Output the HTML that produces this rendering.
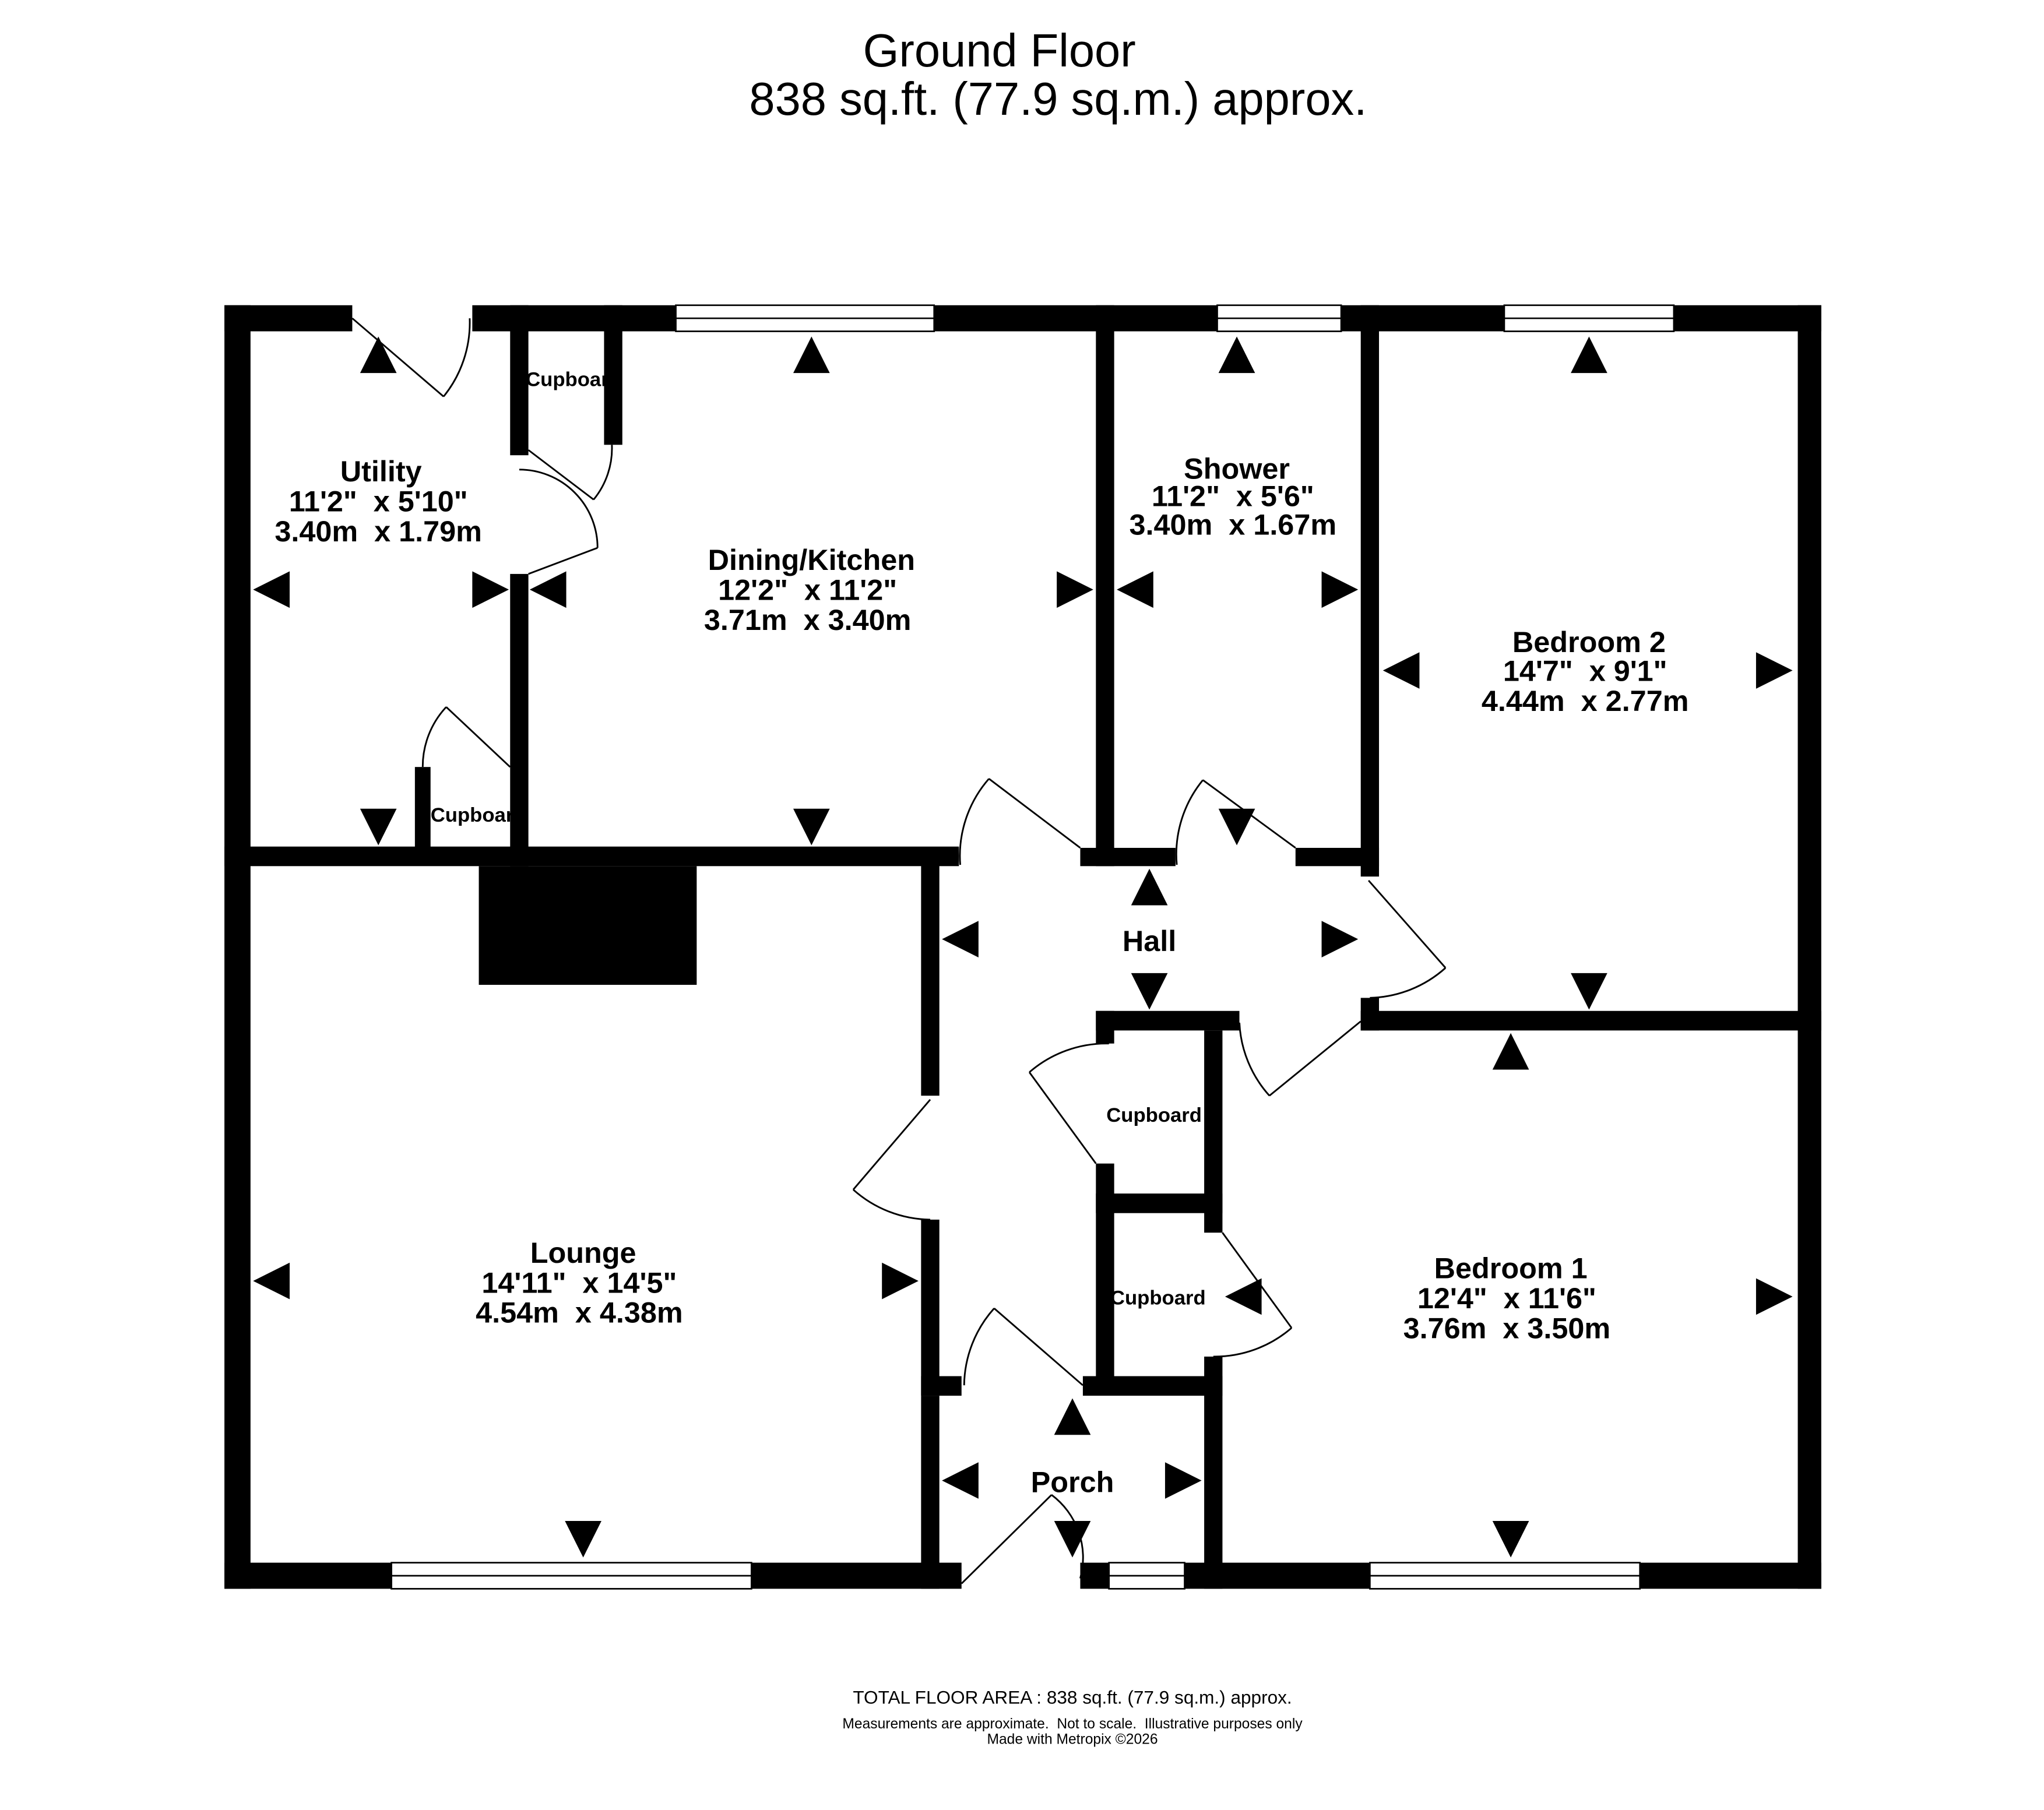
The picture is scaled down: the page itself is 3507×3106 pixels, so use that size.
<!DOCTYPE html>
<html><head><meta charset="utf-8"><style>
html,body{margin:0;padding:0;background:#fff;}
svg{display:block;}
text{font-family:"Liberation Sans",Arial,sans-serif;white-space:pre;}
.r{font-weight:bold;font-size:22.5px;text-anchor:middle;}
.c{font-weight:bold;font-size:15.5px;}
</style></head><body>
<svg width="3507" height="3106" viewBox="0 0 1566.7 1387.6" xmlns="http://www.w3.org/2000/svg">
<rect width="1567" height="1388" fill="#fff"/>
<text x="766" y="51" font-size="35.5" text-anchor="middle">Ground Floor</text>
<text x="811" y="88" font-size="35.5" text-anchor="middle">838 sq.ft. (77.9 sq.m.) approx.</text>
<g fill="#000">
<rect x="172" y="234" width="98" height="20"/>
<rect x="362" y="234" width="156" height="20"/>
<rect x="716" y="234" width="217" height="20"/>
<rect x="1028" y="234" width="125" height="20"/>
<rect x="1283" y="234" width="113" height="20"/>
<rect x="172" y="234" width="20" height="984"/>
<rect x="1378" y="234" width="18" height="984"/>
<rect x="172" y="1198" width="128" height="20"/>
<rect x="576" y="1198" width="161" height="20"/>
<rect x="828" y="1198" width="22" height="20"/>
<rect x="908" y="1198" width="142" height="20"/>
<rect x="1257" y="1198" width="139" height="20"/>
<rect x="172" y="649" width="563" height="15"/>
<rect x="391" y="234" width="14" height="115"/>
<rect x="391" y="440" width="14" height="224"/>
<rect x="463" y="234" width="14" height="107"/>
<rect x="318" y="588" width="12" height="70"/>
<rect x="367" y="664" width="167" height="91"/>
<rect x="840" y="234" width="14" height="430"/>
<rect x="828" y="650" width="73" height="14"/>
<rect x="1043" y="234" width="14" height="438"/>
<rect x="993" y="650" width="64" height="14"/>
<rect x="706" y="650" width="14" height="190"/>
<rect x="706" y="935" width="14" height="135"/>
<rect x="706" y="1055" width="31" height="15"/>
<rect x="706" y="1070" width="14" height="148"/>
<rect x="1043" y="775" width="353" height="15"/>
<rect x="1043" y="765" width="14" height="25"/>
<rect x="840" y="775" width="110" height="15"/>
<rect x="840" y="775" width="14" height="25"/>
<rect x="923" y="790" width="14" height="155"/>
<rect x="840" y="915" width="97" height="15"/>
<rect x="840" y="892" width="14" height="168"/>
<rect x="830" y="1055" width="107" height="15"/>
<rect x="923" y="1040" width="14" height="178"/>
</g>
<g fill="#fff" stroke="#000" stroke-width="1.2">
<rect x="518" y="234" width="198" height="20"/><line x1="518" y1="244" x2="716" y2="244"/>
<rect x="933" y="234" width="95" height="20"/><line x1="933" y1="244" x2="1028" y2="244"/>
<rect x="1153" y="234" width="130" height="20"/><line x1="1153" y1="244" x2="1283" y2="244"/>
<rect x="300" y="1198" width="276" height="20"/><line x1="300" y1="1208" x2="576" y2="1208"/>
<rect x="850" y="1198" width="58" height="20"/><line x1="850" y1="1208" x2="908" y2="1208"/>
<rect x="1050" y="1198" width="207" height="20"/><line x1="1050" y1="1208" x2="1257" y2="1208"/>
</g>
<g fill="none" stroke="#000" stroke-width="1.3">
<path d="M270 244 L340 304 M340 304 A90 90 0 0 0 360 244"/>
<path d="M405 345 L455 383 M455 383 A62 62 0 0 0 469 341"/>
<path d="M405 440 L458 420 M458 420 A60 60 0 0 0 398 360"/>
<path d="M391 588 L342 542 M342 542 A67 67 0 0 0 324 588"/>
<path d="M828 650 L758 597 M758 597 A90 90 0 0 0 736 663"/>
<path d="M993 650 L922 598 M922 598 A90 90 0 0 0 902 663"/>
<path d="M1049 675 L1108 742 M1108 742 A90 90 0 0 1 1050 765"/>
<path d="M973 840 L1043 783 M950 784 A90 90 0 0 0 973 840"/>
<path d="M840 892 L789 822 M789 822 A90 90 0 0 1 850 800"/>
<path d="M713 843 L654 912 M654 912 A90 90 0 0 0 713 935"/>
<path d="M937 945 L990 1018 M990 1018 A90 90 0 0 1 930 1040"/>
<path d="M830 1062 L762 1003 M762 1003 A90 90 0 0 0 739 1062"/>
<path d="M737 1214 L806 1146 M806 1146 A60 60 0 0 1 828 1210"/>
</g>
<g fill="#000">
<polygon points="276,286 304,286 290,258"/><polygon points="608,286 636,286 622,258"/>
<polygon points="934,286 962,286 948,258"/><polygon points="1204,286 1232,286 1218,258"/>
<polygon points="867,694 895,694 881,666"/><polygon points="1144,820 1172,820 1158,792"/>
<polygon points="808,1100 836,1100 822,1072"/>
<polygon points="276,620 304,620 290,648"/><polygon points="608,620 636,620 622,648"/>
<polygon points="934,620 962,620 948,648"/><polygon points="1204,746 1232,746 1218,774"/>
<polygon points="867,746 895,746 881,774"/><polygon points="433,1166 461,1166 447,1194"/>
<polygon points="808,1166 836,1166 822,1194"/><polygon points="1144,1166 1172,1166 1158,1194"/>
<polygon points="222,438 222,466 194,452"/><polygon points="434,438 434,466 406,452"/>
<polygon points="884,438 884,466 856,452"/><polygon points="1088,500 1088,528 1060,514"/>
<polygon points="750,706 750,734 722,720"/><polygon points="222,968 222,996 194,982"/>
<polygon points="750,1121 750,1149 722,1135"/><polygon points="967,980 967,1008 939,994"/>
<polygon points="362,438 362,466 390,452"/><polygon points="810,438 810,466 838,452"/>
<polygon points="1013,438 1013,466 1041,452"/><polygon points="1346,500 1346,528 1374,514"/>
<polygon points="1013,706 1013,734 1041,720"/><polygon points="676,968 676,996 704,982"/>
<polygon points="893,1121 893,1149 921,1135"/><polygon points="1346,980 1346,1008 1374,994"/>
</g>
<g class="r">
<text x="292" y="369">Utility</text><text x="290" y="392">11'2"  x 5'10"</text><text x="290" y="415">3.40m  x 1.79m</text>
<text x="622" y="437">Dining/Kitchen</text><text x="619" y="460">12'2"  x 11'2"</text><text x="619" y="483">3.71m  x 3.40m</text>
<text x="948" y="367">Shower</text><text x="945" y="388">11'2"  x 5'6"</text><text x="945" y="410">3.40m  x 1.67m</text>
<text x="1218" y="500">Bedroom 2</text><text x="1215" y="522">14'7"  x 9'1"</text><text x="1215" y="545">4.44m  x 2.77m</text>
<text x="881" y="729">Hall</text>
<text x="447" y="968">Lounge</text><text x="444" y="991">14'11"  x 14'5"</text><text x="444" y="1014">4.54m  x 4.38m</text>
<text x="1158" y="980">Bedroom 1</text><text x="1155" y="1003">12'4"  x 11'6"</text><text x="1155" y="1026">3.76m  x 3.50m</text>
<text x="822" y="1144">Porch</text>
</g>
<g class="c">
<text x="403" y="296">Cupboard</text>
<text x="330" y="630">Cupboard</text>
<text x="848" y="860">Cupboard</text>
<text x="851" y="1000">Cupboard</text>
</g>
<text x="822" y="1306" font-size="14.1" text-anchor="middle">TOTAL FLOOR AREA : 838 sq.ft. (77.9 sq.m.) approx.</text>
<text x="822" y="1325" font-size="11" text-anchor="middle">Measurements are approximate.  Not to scale.  Illustrative purposes only</text>
<text x="822" y="1337" font-size="11" text-anchor="middle">Made with Metropix ©2026</text>
</svg>
</body></html>
